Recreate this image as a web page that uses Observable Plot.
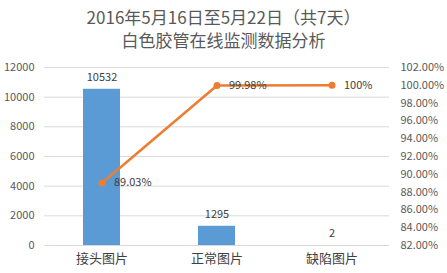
<!DOCTYPE html>
<html><head><meta charset="utf-8">
<script src="https://cdn.jsdelivr.net/npm/d3@7"></script>
<script src="https://cdn.jsdelivr.net/npm/@observablehq/plot@0.6"></script>
<style>
body{margin:0;background:#fff;font-family:"Noto Sans CJK SC",sans-serif;}
#title{height:55px;box-sizing:border-box;padding-top:5px;text-align:center;color:#595959;font-size:17px;line-height:23px;}
</style></head>
<body>
<div id="title"><div>2016年5月16日至5月22日（共7天）</div><div>白色胶管在线监测数据分析</div></div>
<div id="chart"></div>
<script>
const categories = ["接头图片", "正常图片", "缺陷图片"];
const counts = [10532, 1295, 2];
const cumPercent = [89.03, 99.98, 100];
const pctLabels = ["89.03%", "99.98%", "100%"];
const leftTicks = [0, 2000, 4000, 6000, 8000, 10000, 12000];
const rightTicks = [82, 84, 86, 88, 90, 92, 94, 96, 98, 100, 102];

const yMax = 12000, pMin = 82, pMax = 102;
const toY = p => (p - pMin) / (pMax - pMin) * yMax;

const data = categories.map((c, i) => ({cat: c, count: counts[i], pct: cumPercent[i], pctY: toY(cumPercent[i]), pctLabel: pctLabels[i]}));

const font = "Noto Sans CJK SC";
const chart = Plot.plot({
  width: 447, height: 218,
  marginTop: 12, marginBottom: 28, marginLeft: 44, marginRight: 58,
  style: {fontFamily: font, fontSize: "11px", color: "#595959", background: "#fff"},
  x: {domain: categories, padding: 0, label: null},
  y: {domain: [0, yMax], label: null},
  marks: [
    Plot.ruleY(leftTicks, {stroke: "#D9D9D9", strokeWidth: 1}),
    Plot.axisY({ticks: leftTicks, tickSize: 0, tickPadding: 10, label: null, tickFormat: d => String(d), fontSize: 11, fill: "#595959"}),
    Plot.axisY({anchor: "right", ticks: rightTicks.map(toY), tickSize: 0, tickPadding: 11, label: null,
      tickFormat: d => (pMin + d / yMax * (pMax - pMin)).toFixed(2) + "%", fontSize: 11, fill: "#595959"}),
    Plot.axisX({tickSize: 0, tickPadding: 8, label: null, fontSize: 13, fill: "#404040"}),
    Plot.barY(data, {x: "cat", y: "count", fill: "#5B9BD5", insetLeft: 39, insetRight: 39}),
    Plot.text(data, {x: "cat", y: "count", text: d => String(d.count), dy: -12, fill: "#404040", fontSize: 11}),
    Plot.line(data, {x: "cat", y: "pctY", stroke: "#ED7D31", strokeWidth: 2.5}),
    Plot.dot(data, {x: "cat", y: "pctY", r: 3.5, fill: "#ED7D31", stroke: "none"}),
    Plot.text(data, {x: "cat", y: "pctY", text: "pctLabel", dx: 12, textAnchor: "start", fill: "#404040", fontSize: 11})
  ]
});
document.getElementById("chart").appendChild(chart);
</script>
</body></html>
